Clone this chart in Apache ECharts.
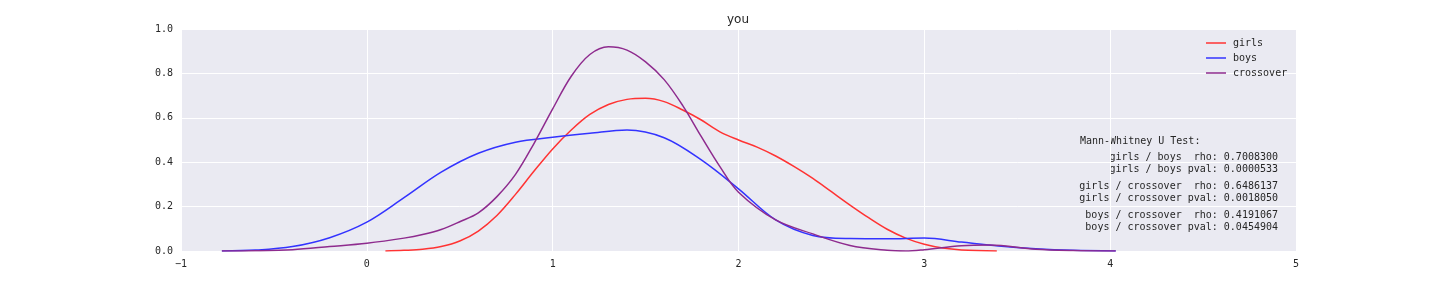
<!DOCTYPE html>
<html>
<head>
<meta charset="utf-8">
<script src="https://cdn.jsdelivr.net/npm/echarts@6/dist/echarts.min.js"></script>
<style>html,body{margin:0;padding:0;background:#fff}#c{width:1440px;height:288px}</style>
</head>
<body>
<div id="c"></div>
<script>
const seriesNames = ['girls', 'boys', 'crossover'];
const girlsX = [0.10, 0.2, 0.3, 0.4, 0.5, 0.6, 0.7, 0.8, 0.9, 1.0, 1.1, 1.2, 1.3, 1.4, 1.5, 1.6, 1.7, 1.8, 1.9, 2.0, 2.1, 2.2, 2.3, 2.4, 2.5, 2.6, 2.7, 2.8, 2.9, 3.0, 3.1, 3.2, 3.39];
const girlsY = [0, 0.003, 0.008, 0.02, 0.045, 0.09, 0.16, 0.255, 0.36, 0.46, 0.545, 0.615, 0.66, 0.683, 0.688, 0.673, 0.635, 0.59, 0.537, 0.5, 0.468, 0.428, 0.38, 0.327, 0.267, 0.207, 0.15, 0.098, 0.058, 0.03, 0.013, 0.005, 0];
const boysX = [-0.78, -0.6, -0.4, -0.2, 0, 0.2, 0.4, 0.6, 0.8, 1.0, 1.2, 1.4, 1.6, 1.8, 2.0, 2.2, 2.4, 2.6, 2.8, 3.0, 3.2, 3.4, 3.6, 3.8, 4.03];
const boysY = [0, 0.004, 0.02, 0.06, 0.13, 0.24, 0.355, 0.44, 0.49, 0.512, 0.53, 0.545, 0.51, 0.41, 0.28, 0.14, 0.07, 0.056, 0.055, 0.058, 0.04, 0.022, 0.01, 0.003, 0];
const crossX = [-0.78, -0.6, -0.4, -0.2, 0, 0.2, 0.3, 0.4, 0.5, 0.6, 0.7, 0.8, 0.9, 1.0, 1.1, 1.2, 1.3, 1.4, 1.5, 1.6, 1.7, 1.8, 1.9, 2.0, 2.2, 2.4, 2.6, 2.8, 2.9, 3.0, 3.2, 3.35, 3.6, 3.8, 4.03];
const crossY = [0, 0.001, 0.006, 0.02, 0.035, 0.058, 0.074, 0.097, 0.132, 0.172, 0.245, 0.345, 0.485, 0.64, 0.787, 0.885, 0.92, 0.905, 0.852, 0.772, 0.655, 0.515, 0.38, 0.265, 0.14, 0.077, 0.025, 0.003, 0, 0.006, 0.024, 0.027, 0.008, 0.002, 0];
const colors = ['#ff3333', '#3333ff', '#8e2b8e'];
const titleText = 'you';
const statsHeader = 'Mann-Whitney U Test:';
const statsLines = [
  'girls / boys  rho: 0.7008300',
  'girls / boys pval: 0.0000533',
  'girls / crossover  rho: 0.6486137',
  'girls / crossover pval: 0.0018050',
  'boys / crossover  rho: 0.4191067',
  'boys / crossover pval: 0.0454904'
];
const statsY = [157, 169, 186, 198, 215, 227];

const zip = (xs, ys) => xs.map((x, i) => [x, ys[i]]);
const mono = '"DejaVu Sans Mono", monospace';
const chart = echarts.init(document.getElementById('c'), null, {renderer: 'canvas'});
const graphics = [{
  type: 'text', x: 1080, y: 141,
  style: {text: statsHeader, textAlign: 'left', textVerticalAlign: 'middle', font: '10px ' + mono, fill: '#262626'}
}].concat(statsLines.map((t, i) => ({
  type: 'text', x: 1278, y: statsY[i],
  style: {text: t, textAlign: 'right', textVerticalAlign: 'middle', font: '10px ' + mono, fill: '#262626'}
})));

const mkSeries = (i, xs, ys) => ({
  name: seriesNames[i], type: 'line', data: zip(xs, ys), smooth: 0.35, symbol: 'none',
  lineStyle: {color: colors[i], width: 1.5}, itemStyle: {color: colors[i]}
});

chart.setOption({
  animation: false,
  title: {text: titleText, left: 738, textAlign: 'center', top: 14, padding: 0,
    textStyle: {fontFamily: '"DejaVu Sans", sans-serif', fontSize: 12, fontWeight: 'normal', color: '#262626'}},
  grid: {left: 181, right: 144, top: 29, bottom: 37, show: true, backgroundColor: '#eaeaf2', borderWidth: 0},
  legend: {
    orient: 'vertical', left: 1206, top: 38, padding: 0, icon: 'rect',
    itemWidth: 20, itemHeight: 1.5, itemGap: 5,
    data: seriesNames,
    textStyle: {fontFamily: mono, fontSize: 10, color: '#262626', lineHeight: 10, padding: [0, 0, 0, 2]}
  },
  xAxis: {
    type: 'value', min: -1, max: 5, interval: 1,
    axisLine: {show: false}, axisTick: {show: false},
    splitLine: {lineStyle: {color: '#ffffff', width: 1}},
    axisLabel: {fontFamily: mono, fontSize: 10, color: '#262626', margin: 8, formatter: v => String(v).replace('-', '\u2212')}
  },
  yAxis: {
    type: 'value', min: 0, max: 1, interval: 0.2,
    axisLine: {show: false}, axisTick: {show: false},
    splitLine: {lineStyle: {color: '#ffffff', width: 1}},
    axisLabel: {fontFamily: mono, fontSize: 10, color: '#262626', margin: 8, formatter: v => v.toFixed(1)}
  },
  series: [
    mkSeries(0, girlsX, girlsY),
    mkSeries(1, boysX, boysY),
    mkSeries(2, crossX, crossY)
  ],
  graphic: graphics
});
</script>
</body>
</html>
